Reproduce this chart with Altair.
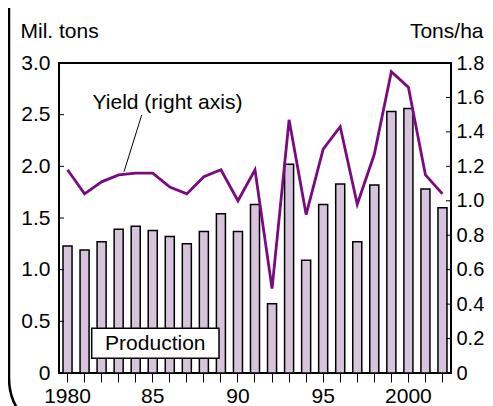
import altair as alt
import pandas as pd

years = list(range(1980, 2003))
production = [1.23, 1.19, 1.27, 1.39, 1.42, 1.38, 1.32, 1.25, 1.37, 1.54, 1.37, 1.63,
              0.67, 2.02, 1.09, 1.63, 1.83, 1.27, 1.82, 2.53, 2.56, 1.78, 1.60]
yield_t = [1.18, 1.04, 1.11, 1.15, 1.16, 1.16, 1.08, 1.04, 1.14, 1.18, 1.00, 1.18,
           0.49, 1.47, 0.92, 1.30, 1.43, 0.98, 1.27, 1.75, 1.66, 1.15, 1.04]
left_ticks = [0.5, 1.0, 1.5, 2.0, 2.5]
right_ticks = [0.2, 0.4, 0.6, 0.8, 1.0, 1.2, 1.4, 1.6]

df = pd.DataFrame({"year": years, "production": production, "yield": yield_t})
lt = pd.DataFrame({"production": left_ticks})
rt = pd.DataFrame({"yield": right_ticks})
one = pd.DataFrame({"a": [0]})

FONT = "Liberation Sans"
FS = 21
W, H = 392, 310
BAR = "#d7c3dc"
LINE = "#7a0a80"

xenc = alt.X(
    "year:O",
    scale=alt.Scale(paddingInner=0.47, paddingOuter=0.235),
    axis=alt.Axis(
        title=None, labelAngle=0, domain=False, tickSize=9, tickColor="black",
        tickWidth=1, bandPosition=0.5, labelPadding=3, labelFontSize=FS,
        labelColor="black", labelFont=FONT,
        labelExpr="datum.value % 5 != 0 ? '' : ((datum.value == 1980 || datum.value == 2000) ? '' + datum.value : '' + (datum.value % 100))",
    ),
)

left_axis = alt.Axis(
    title="Mil. tons", orient="left", titleAngle=0, titleX=-39, titleY=-26, titleAlign="left",
    titleBaseline="alphabetic", titleFontSize=FS, titleFontWeight="normal",
    titleFont=FONT, titleColor="black",
    values=[0, 0.5, 1.0, 1.5, 2.0, 2.5, 3.0], ticks=False, domain=False,
    grid=False, labelPadding=9, labelFontSize=FS, labelFont=FONT, labelColor="black",
    labelExpr="datum.value == 0 ? '0' : format(datum.value, '.1f')",
)
right_axis = alt.Axis(
    title="Tons/ha", orient="right", titleAngle=0, titleX=32, titleY=-26,
    titleAlign="right", titleBaseline="alphabetic", titleFontSize=FS,
    titleFontWeight="normal", titleFont=FONT, titleColor="black",
    values=[0, 0.2, 0.4, 0.6, 0.8, 1.0, 1.2, 1.4, 1.6, 1.8], ticks=False,
    domain=False, grid=False, labelPadding=5, labelFontSize=20, labelFont=FONT,
    labelColor="black",
    labelExpr="datum.value == 0 ? '0' : format(datum.value, '.1f')",
)
lscale = alt.Scale(domain=[0, 3])
rscale = alt.Scale(domain=[0, 1.8])

bars = alt.Chart(df).mark_bar(color=BAR, stroke="black", strokeWidth=1.5).encode(
    x=xenc, y=alt.Y("production:Q", scale=lscale, axis=left_axis)
)
lticks = alt.Chart(lt).mark_rule(color="black", strokeWidth=1).encode(
    y=alt.Y("production:Q", scale=lscale, axis=left_axis),
    x=alt.value(0), x2=alt.value(5),
)
layer_left = alt.layer(bars, lticks)

line = alt.Chart(df).mark_line(color=LINE, strokeWidth=2.8).encode(
    x=alt.X("year:O"), y=alt.Y("yield:Q", scale=rscale, axis=right_axis)
)
rticks = alt.Chart(rt).mark_rule(color="black", strokeWidth=1).encode(
    y=alt.Y("yield:Q", scale=rscale, axis=right_axis),
    x=alt.value(W - 5), x2=alt.value(W),
)
layer_right = alt.layer(line, rticks)

frame = alt.Chart(one).mark_rect(
    filled=False, stroke="black", strokeWidth=2.5, cornerRadius=60
).encode(
    x=alt.value(-50), x2=alt.value(520), y=alt.value(-120), y2=alt.value(375)
)
leader = alt.Chart(one).mark_rule(color="black", strokeWidth=1).encode(
    x=alt.value(82.7), y=alt.value(52), x2=alt.value(65), y2=alt.value(108.7)
)
ylabel = alt.Chart(one).mark_text(
    text="Yield (right axis)", fontSize=FS, font=FONT, color="black",
    align="center", baseline="middle"
).encode(x=alt.value(108.5), y=alt.value(40))
pbox = alt.Chart(one).mark_rect(
    fill="white", stroke="black", strokeWidth=1.5
).encode(x=alt.value(32.7), x2=alt.value(160), y=alt.value(265.3), y2=alt.value(295.3))
ptext = alt.Chart(one).mark_text(
    text="Production", fontSize=FS, font=FONT, color="black",
    align="center", baseline="middle"
).encode(x=alt.value(96.3), y=alt.value(281))

chart = alt.layer(
    layer_left, layer_right, frame, leader, ylabel, pbox, ptext
).resolve_scale(y="independent").properties(
    width=W, height=H,
    autosize=alt.AutoSizeParams(type="none"),
    padding={"left": 51, "top": 55, "right": 34, "bottom": 35},
    background="white",
).configure_view(stroke="black", strokeWidth=2)

chart.save("out.html", embed_options={"renderer": "svg", "actions": False})
